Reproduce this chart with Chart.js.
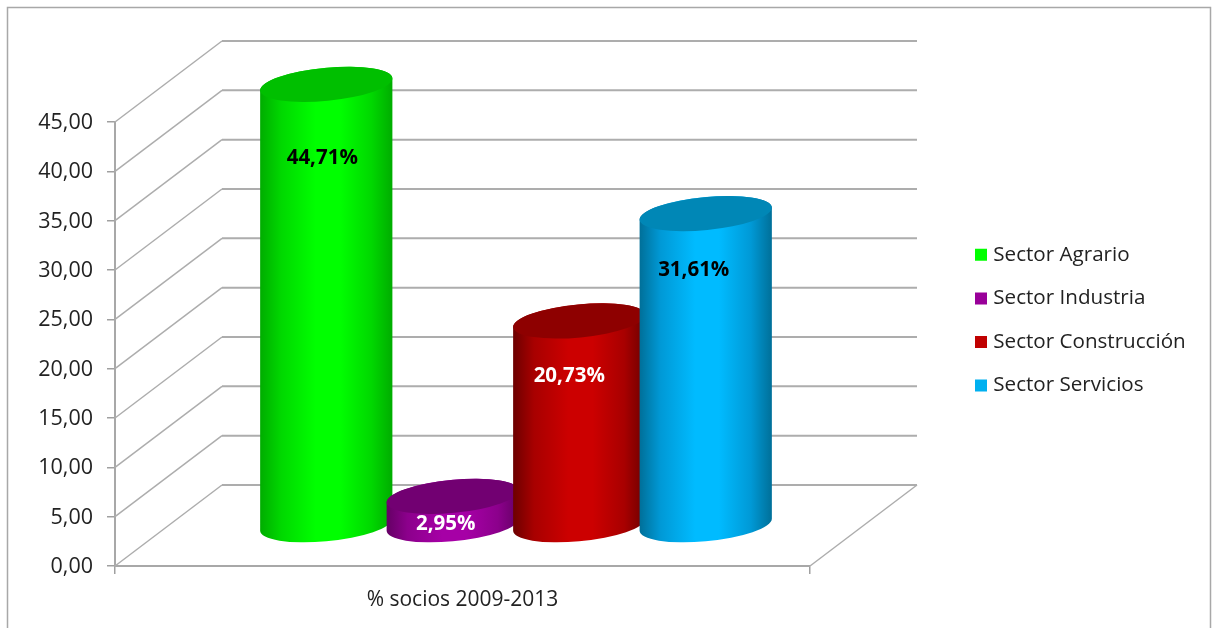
<!DOCTYPE html>
<html>
<head>
<meta charset="utf-8">
<title>% socios 2009-2013</title>
<script src="https://cdn.jsdelivr.net/npm/chart.js@4"></script>
<style>
  html, body { margin: 0; padding: 0; background: #fff; }
  canvas { display: block; }
</style>
</head>
<body>
<canvas id="grafico" width="1212" height="628"></canvas>
<script>
const categorias = ['% socios 2009-2013'];
const sectores = ['Sector Agrario', 'Sector Industria', 'Sector Construcción', 'Sector Servicios'];
const valores = [44.71, 2.95, 20.73, 31.61];
const etiquetas = ['44,71%', '2,95%', '20,73%', '31,61%'];
const ticksY = ['0,00', '5,00', '10,00', '15,00', '20,00', '25,00', '30,00', '35,00', '40,00', '45,00'];

const coloresLeyenda = ['#00ff00', '#990099', '#c00000', '#00b0f0'];
const coloresBase = ['#00ff00', '#a600a6', '#cc0000', '#00bbff'];
const coloresMedio = ['#00d800', '#8c008c', '#a80000', '#0099d6'];
const coloresBorde = ['#00ac00', '#640064', '#6c0000', '#006f98'];
const coloresTapa = ['#00bf00', '#720072', '#8e0000', '#0087b6'];
const coloresTexto = ['#000000', '#ffffff', '#ffffff', '#000000'];

// desplazamiento de la etiqueta respecto al centro de la tapa
const despEtiqueta = [[-4, 74], [-7, 28], [-10, 55], [-12, 57]];

const PROF_X = 107, PROF_Y = -81;        // fondo de la caja 3D
const COL_X = 53.5, COL_Y = -40.5;       // los cilindros van a media profundidad
const ANG = -5.5 * Math.PI / 180;        // inclinacion de las elipses
const RY = 16.5;
const FUENTE = '"Open Sans", sans-serif';

function pintarCilindro(ctx, el, i) {
  const cx = el.x + COL_X;
  const arriba = el.y + COL_Y;
  const abajo = el.base + COL_Y;
  const rx = el.width / 2;
  const t0 = Math.atan(-(RY / rx) * Math.tan(ANG));

  const grad = ctx.createLinearGradient(cx - rx, 0, cx + rx, 0);
  grad.addColorStop(0, coloresBorde[i]);
  grad.addColorStop(0.16, coloresMedio[i]);
  grad.addColorStop(0.42, coloresBase[i]);
  grad.addColorStop(0.6, coloresBase[i]);
  grad.addColorStop(0.84, coloresMedio[i]);
  grad.addColorStop(1, coloresBorde[i]);

  ctx.beginPath();
  ctx.ellipse(cx, arriba, rx, RY, ANG, t0 + Math.PI, t0);
  ctx.ellipse(cx, abajo, rx, RY, ANG, t0, t0 + Math.PI);
  ctx.closePath();
  ctx.fillStyle = grad;
  ctx.fill();

  ctx.beginPath();
  ctx.ellipse(cx, arriba, rx, RY, ANG, 0, Math.PI * 2);
  ctx.fillStyle = coloresTapa[i];
  ctx.fill();
}

const caja3d = {
  id: 'caja3d',
  beforeDatasetsDraw(chart) {
    const ctx = chart.ctx;
    const y = chart.scales.y;
    const { left, right, bottom } = chart.chartArea;

    ctx.save();
    // marco exterior, abierto por abajo
    ctx.strokeStyle = '#a8a8a8';
    ctx.lineWidth = 1.5;
    ctx.strokeRect(7.5, 7.5, 1203, 660);

    ctx.strokeStyle = '#adadad';
    ctx.lineWidth = 2;
    y.ticks.forEach(t => {
      const py = y.getPixelForValue(t.value);
      ctx.beginPath();
      ctx.moveTo(left + PROF_X, py + PROF_Y);
      ctx.lineTo(right + PROF_X, py + PROF_Y);
      ctx.stroke();
    });
    ctx.lineWidth = 1.5;
    y.ticks.forEach(t => {
      const py = y.getPixelForValue(t.value);
      ctx.beginPath();
      ctx.moveTo(left, py);
      ctx.lineTo(left + PROF_X, py + PROF_Y);
      ctx.stroke();
    });
    ctx.beginPath();
    ctx.moveTo(right, bottom);
    ctx.lineTo(right + PROF_X, bottom + PROF_Y);
    ctx.stroke();

    sectores.forEach((s, i) => {
      pintarCilindro(ctx, chart.getDatasetMeta(i).data[0], i);
    });

    ctx.font = 'bold 20.5px ' + FUENTE;
    ctx.textAlign = 'center';
    ctx.textBaseline = 'middle';
    sectores.forEach((s, i) => {
      const el = chart.getDatasetMeta(i).data[0];
      ctx.fillStyle = coloresTexto[i];
      ctx.fillText(etiquetas[i], el.x + COL_X + despEtiqueta[i][0], el.y + COL_Y + despEtiqueta[i][1]);
    });
    ctx.restore();
    return false; // los cilindros sustituyen a las barras planas
  },
  afterLayout(chart) {
    const l = chart.legend;
    l.left = 956;
    l.right = 1206;
    l.top = 221.5;
    l.bottom = 420;
  }
};

new Chart(document.getElementById('grafico').getContext('2d'), {
  type: 'bar',
  data: {
    labels: categorias,
    datasets: sectores.map((s, i) => ({
      label: s,
      data: [valores[i]],
      backgroundColor: coloresLeyenda[i],
      categoryPercentage: 0.728,
      barPercentage: 1.05
    }))
  },
  options: {
    responsive: false,
    animation: false,
    layout: { padding: { top: 122, right: 402, left: 0, bottom: 0 } },
    scales: {
      x: {
        afterFit(scale) { scale.height = 62; },
        border: { color: '#a8a8a8', width: 2 },
        grid: { drawOnChartArea: false, color: '#a0a0a0', lineWidth: 1.5, tickLength: 8 },
        ticks: { color: '#222', padding: 13, font: { family: FUENTE, size: 21 } }
      },
      y: {
        min: 0,
        max: 45,
        afterFit(scale) { scale.width = 115; },
        border: { color: '#a8a8a8', width: 2 },
        grid: { drawOnChartArea: false, color: '#a0a0a0', lineWidth: 1.5, tickLength: 8 },
        ticks: {
          stepSize: 5,
          color: '#222',
          padding: 14,
          labelOffset: 1,
          font: { family: FUENTE, size: 21.5 },
          callback: (v, i) => ticksY[i]
        }
      }
    },
    plugins: {
      tooltip: { enabled: false },
      legend: {
        position: 'chartArea',
        align: 'start',
        labels: {
          color: '#222',
          usePointStyle: true,
          pointStyle: 'rect',
          boxWidth: 4,
          boxHeight: 12,
          padding: 23,
          font: { family: FUENTE, size: 20.6 }
        }
      }
    }
  },
  plugins: [caja3d]
});
</script>
</body>
</html>
